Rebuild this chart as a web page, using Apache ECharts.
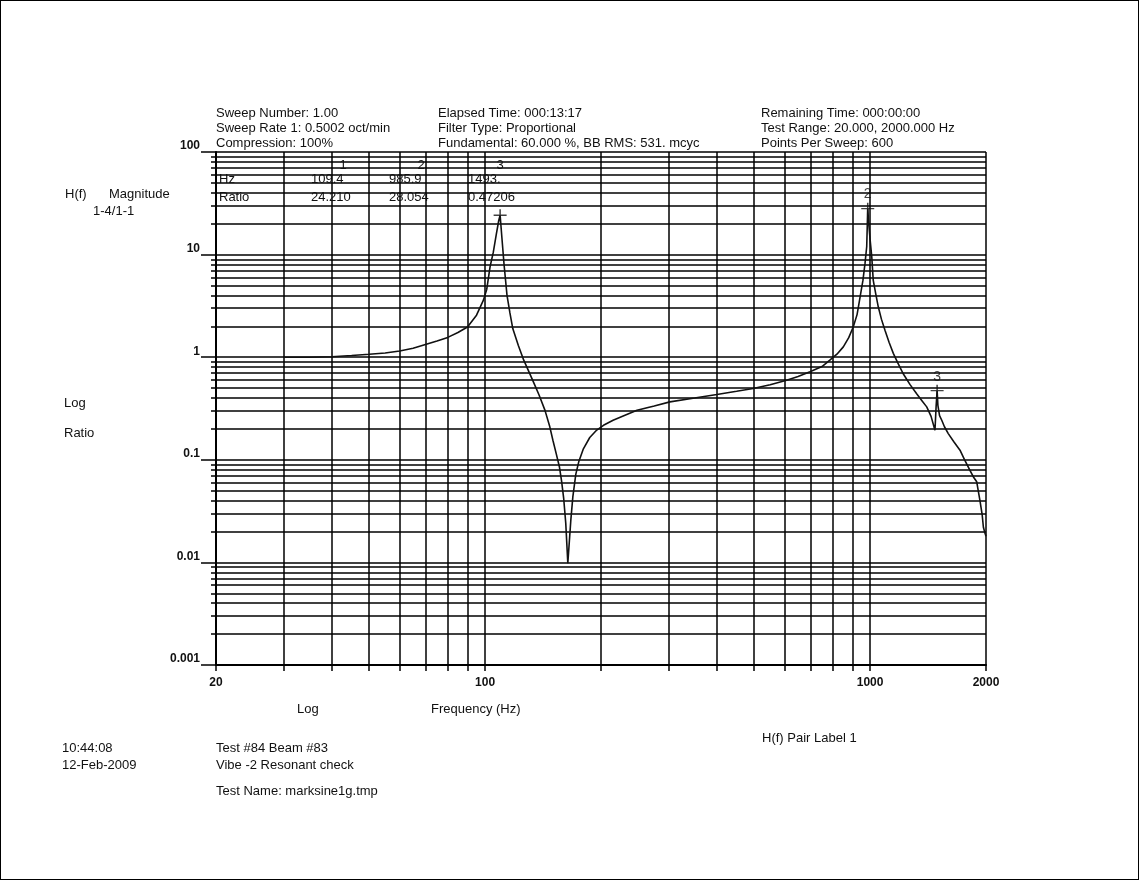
<!DOCTYPE html>
<html>
<head>
<meta charset="utf-8">
<title>H(f) Magnitude</title>
<script src="https://cdn.jsdelivr.net/npm/echarts@6/dist/echarts.min.js"></script>
<style>
  html, body { margin: 0; padding: 0; background: #fff; }
  #chart { position: absolute; left: 0; top: 0; width: 1139px; height: 880px; }
  #frame { position: absolute; left: 0; top: 0; width: 1139px; height: 880px; box-sizing: border-box; border: 1px solid #000; pointer-events: none; }
</style>
</head>
<body>
<div id="chart"></div>
<div id="frame"></div>
<script>
// Swept-sine transfer function H(f), ratio 1-4 / 1-1
const freqHz = [30, 35, 40, 45, 50, 55, 60, 65, 70, 75, 80, 85, 90, 95, 99, 101, 103, 105, 107, 108.5,
  109.4, 110.5, 112, 114, 116, 118, 122, 126, 130, 134, 138, 143, 147, 150, 153, 156, 158, 160, 162, 164,
  165.5, 167, 169, 172, 175, 180, 187, 195, 203, 215, 230, 248, 275, 302, 350, 400, 450, 497, 550, 607,
  650, 698, 750, 786, 820, 852, 880, 904, 925, 942, 958, 970, 980, 985.9, 991, 1000, 1010, 1019, 1035, 1050,
  1070, 1093, 1120, 1149, 1180, 1219, 1270, 1321, 1365, 1403, 1440, 1474, 1484, 1493, 1500, 1515, 1535, 1560, 1596, 1650,
  1712, 1760, 1817, 1855, 1892, 1929, 1955, 1969, 1990, 2000];
const ratio = [1.00, 1.00, 1.01, 1.04, 1.07, 1.10, 1.15, 1.22, 1.33, 1.44, 1.56, 1.74, 1.97, 2.57, 3.6, 4.6, 7.6, 10.5, 16, 21.5,
  24.21, 15, 8, 4.0, 2.7, 1.9, 1.3, 0.935, 0.72, 0.555, 0.43, 0.305, 0.215, 0.155, 0.115, 0.085, 0.062, 0.042, 0.024, 0.0098,
  0.016, 0.026, 0.0435, 0.072, 0.095, 0.128, 0.165, 0.195, 0.217, 0.243, 0.27, 0.304, 0.335, 0.367, 0.40, 0.433, 0.465, 0.495, 0.54, 0.597,
  0.65, 0.72, 0.81, 0.935, 1.07, 1.26, 1.55, 1.97, 2.6, 3.87, 5.6, 8.2, 12, 28.054, 21, 14, 9.5, 5.6, 4.1, 3.1,
  2.35, 1.83, 1.4, 1.09, 0.88, 0.69, 0.54, 0.44, 0.375, 0.328, 0.265, 0.194, 0.33, 0.47206, 0.34, 0.27, 0.243, 0.21, 0.18, 0.15,
  0.124, 0.10, 0.079, 0.068, 0.061, 0.040, 0.029, 0.022, 0.019, 0.018];

// Cursor markers
const markerNames = ['1', '2', '3'];
const markerHz = [109.4, 985.9, 1493];
const markerRatio = [24.210, 28.054, 0.47206];

// Axis ticks and labels
const xGridHz = [20, 30, 40, 50, 60, 70, 80, 90, 100, 200, 300, 400, 500, 600, 700, 800, 900, 1000, 2000];
const xLabelHz = [20, 100, 1000, 2000];
const yMajor = [0.001, 0.01, 0.1, 1, 10, 100];
const yMinorSteps = [2, 3, 4, 5, 6, 7, 8, 9];

const yAll = yMajor.slice();
yMajor.slice(0, -1).forEach(d => yMinorSteps.forEach(k => yAll.push(Number((k * d).toPrecision(3)))));

const FONT = '"Liberation Sans", Arial, Helvetica, sans-serif';
const INK = '#111';

const fmtNum = v => String(Math.round(v * 1e6) / 1e6);
const fmtHz = v => { const s = v.toPrecision(4); return s.indexOf('.') < 0 ? s + '.' : s; };
const fmtRatio = v => v.toPrecision(5);

function txt(text, x, y, opts) {
  return {
    type: 'text', silent: true, z: 20,
    style: Object.assign({ text: text, x: x, y: y, fill: INK, font: '13px ' + FONT, verticalAlign: 'middle', align: 'left' }, opts || {})
  };
}

const graphics = [
  // header block
  txt('Sweep Number: 1.00', 216, 113),
  txt('Sweep Rate 1: 0.5002 oct/min', 216, 128),
  txt('Compression: 100%', 216, 143),
  txt('Elapsed Time: 000:13:17', 438, 113),
  txt('Filter Type: Proportional', 438, 128),
  txt('Fundamental: 60.000 %, BB RMS: 531. mcyc', 438, 143),
  txt('Remaining Time: 000:00:00', 761, 113),
  txt('Test Range: 20.000, 2000.000 Hz', 761, 128),
  txt('Points Per Sweep: 600', 761, 143),
  // left titles
  txt('H(f)', 65, 194),
  txt('Magnitude', 109, 194),
  txt('1-4/1-1', 93, 211),
  txt('Log', 64, 403),
  txt('Ratio', 64, 433),
  // axis title
  txt('Log', 297, 709),
  txt('Frequency (Hz)', 431, 709),
  txt('H(f) Pair Label 1', 762, 738),
  // footer
  txt('10:44:08', 62, 748),
  txt('12-Feb-2009', 62, 765),
  txt('Test #84 Beam #83', 216, 748),
  txt('Vibe -2 Resonant check', 216, 765),
  txt('Test Name: marksine1g.tmp', 216, 791),
  // marker readout table
  txt('Hz', 219, 179),
  txt('Ratio', 219, 197)
];
const colX = [311, 389, 468];
const headX = [343, 421, 500];
markerNames.forEach((n, i) => {
  graphics.push(txt(n, headX[i], 165, { align: 'center' }));
  graphics.push(txt(fmtHz(markerHz[i]), colX[i], 179));
  graphics.push(txt(fmtRatio(markerRatio[i]), colX[i], 197));
});

const gridLine = { color: '#000', width: 1.5 };

const option = {
  animation: false,
  backgroundColor: '#fff',
  textStyle: { fontFamily: FONT },
  grid: { left: 216, top: 152, width: 770, height: 513, containLabel: false },
  xAxis: {
    type: 'log', logBase: 10, min: 20, max: 2000,
    axisLine: { show: true, lineStyle: { color: '#000', width: 2 } },
    axisTick: { show: true, customValues: xGridHz, length: 6, lineStyle: gridLine },
    axisLabel: { customValues: xLabelHz, formatter: fmtNum, margin: 12, color: INK, fontSize: 12, fontWeight: 'bold', fontFamily: FONT },
    splitLine: { show: true, lineStyle: gridLine },
    minorTick: { show: false }, minorSplitLine: { show: false }
  },
  yAxis: [
    {
      type: 'log', logBase: 10, min: 0.001, max: 100, position: 'left',
      axisLine: { show: true, lineStyle: { color: '#000', width: 2 } },
      axisTick: { show: true, customValues: yMajor, length: 15, lineStyle: gridLine },
      axisLabel: { customValues: yMajor, formatter: fmtNum, margin: 16, verticalAlign: 'bottom', color: INK, fontSize: 12, fontWeight: 'bold', fontFamily: FONT },
      splitLine: { show: false }
    },
    {
      type: 'log', logBase: 10, min: 0.001, max: 100, position: 'left',
      axisLine: { show: false },
      axisTick: { show: true, customValues: yAll, length: 5, lineStyle: gridLine },
      axisLabel: { show: false },
      splitLine: { show: true, lineStyle: gridLine }
    }
  ],
  series: [
    {
      type: 'line', xAxisIndex: 0, yAxisIndex: 0, z: 5,
      data: freqHz.map((f, i) => [f, ratio[i]]),
      showSymbol: false, symbol: 'none', smooth: false,
      lineStyle: { color: INK, width: 1.6 }
    },
    {
      type: 'scatter', xAxisIndex: 0, yAxisIndex: 0, z: 6,
      symbol: 'path://M0,5.3H12V6.7H0Z M5.3,0H6.7V12H5.3Z',
      symbolSize: [13, 12],
      itemStyle: { color: INK },
      label: { show: true, position: 'top', distance: 1, color: INK, fontSize: 14, fontFamily: FONT },
      data: markerHz.map((f, i) => ({
        value: [f, markerRatio[i]],
        label: { show: i > 0, formatter: markerNames[i], fontSize: 14, color: INK }
      }))
    }
  ],
  graphic: graphics
};

const chart = echarts.init(document.getElementById('chart'), null, { renderer: 'canvas' });
chart.setOption(option);
</script>
</body>
</html>
